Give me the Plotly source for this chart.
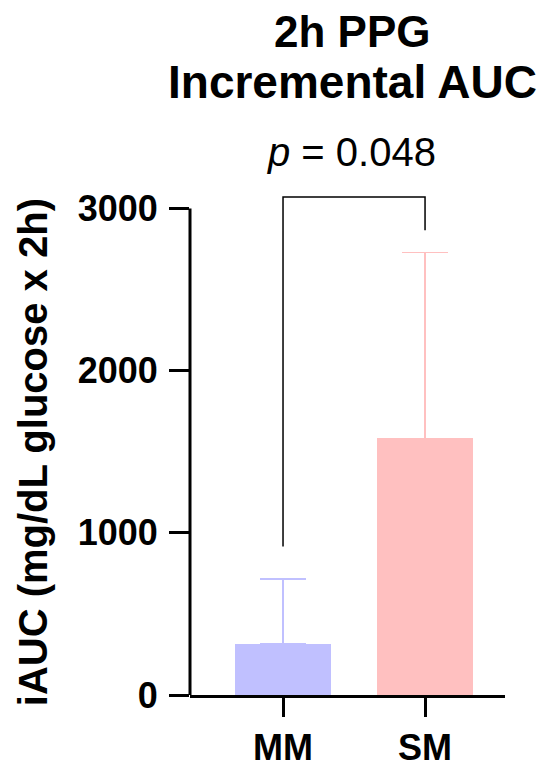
import plotly.graph_objects as go

categories = ["MM", "SM"]
means = [315, 1582]
sd_upper = [400, 1145]
bar_colors = ["#c0c0ff", "#ffc0c0"]
y_ticks = [0, 1000, 2000, 3000]
y_axis_max = 3000

# significance bracket (data units)
bracket_x = [0, 0, 1, 1]
bracket_y = [915, 3070, 3070, 2865]
p_label = "<i>p</i> = 0.048"

title_lines = ["2h PPG", "Incremental AUC"]
y_title = "iAUC (mg/dL glucose x 2h)"

FONT = "Liberation Sans, Arial, sans-serif"
xpos = list(range(len(categories)))

fig = go.Figure()
for i, cat in enumerate(categories):
    fig.add_trace(go.Bar(
        x=[xpos[i]], y=[means[i]], width=0.67,
        marker=dict(color=bar_colors[i], line=dict(width=0)),
        error_y=dict(type="data", array=[sd_upper[i]], arrayminus=[0],
                     symmetric=False, color=bar_colors[i], thickness=1.5, width=23),
        showlegend=False, name=cat,
    ))

fig.add_trace(go.Scatter(
    x=bracket_x, y=bracket_y, mode="lines",
    line=dict(color="black", width=1.5), cliponaxis=False,
    showlegend=False, hoverinfo="skip",
))

fig.update_layout(
    width=550, height=772,
    margin=dict(l=182, r=53, t=168, b=76),
    paper_bgcolor="white", plot_bgcolor="white",
    font=dict(family=FONT, color="black"),
    xaxis=dict(
        range=[-0.655, 1.563], tickvals=xpos, ticktext=categories,
        showline=True, linecolor="black", linewidth=3,
        ticks="outside", ticklen=19, tickwidth=3, tickcolor="black",
        tickfont=dict(size=36, family=FONT, weight="bold"),
        showgrid=False, zeroline=False, fixedrange=True,
    ),
    yaxis=dict(
        range=[0, 3200], tickvals=y_ticks,
        showline=False,
        ticks="outside", ticklen=20, tickwidth=3, tickcolor="black",
        tickfont=dict(size=36, family=FONT, weight="bold"),
        ticklabelstandoff=4,
        showgrid=False, zeroline=False, fixedrange=True,
    ),
    bargap=0,
)

# y axis line only up to the last tick
fig.add_shape(type="line", xref="paper", yref="y", x0=0, x1=0, y0=0, y1=y_axis_max,
              line=dict(color="black", width=3), layer="above")

ann = []
ann.append(dict(text=title_lines[0], x=0.517, y=1.2784, xref="paper", yref="paper",
                xanchor="center", yanchor="middle", showarrow=False, borderpad=0,
                font=dict(size=44, family=FONT, weight="bold")))
ann.append(dict(text=title_lines[1], x=0.517, y=1.182, xref="paper", yref="paper",
                xanchor="center", yanchor="middle", showarrow=False, borderpad=0,
                font=dict(size=46, family=FONT, weight="bold")))
ann.append(dict(text=p_label, x=0.514, y=1.047, xref="paper", yref="paper",
                xanchor="center", yanchor="middle", showarrow=False, borderpad=0,
                font=dict(size=40, family=FONT)))
ann.append(dict(text=y_title, x=-0.498, y=0.468, xref="paper", yref="paper",
                xanchor="center", yanchor="middle", showarrow=False, textangle=-90,
                borderpad=0, font=dict(size=40, family=FONT, weight="bold")))
fig.update_layout(annotations=ann)

fig.write_html("out.html")
